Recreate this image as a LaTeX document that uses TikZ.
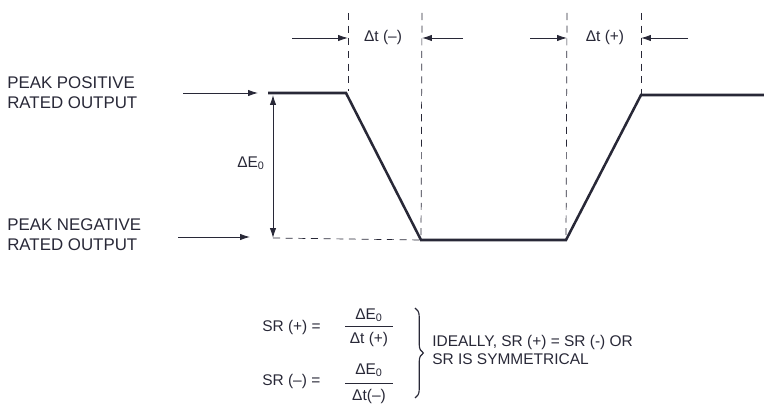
\documentclass[tikz,border=0pt]{standalone}
\usepackage{fontspec}
\setmainfont{Liberation Sans}
\usetikzlibrary{arrows.meta,decorations.pathreplacing}
\definecolor{ink}{RGB}{40,40,55}

\begin{document}
\begin{tikzpicture}[x=0.025cm,y=-0.025cm,color=ink,
		wave/.style={line width=1.8pt,line join=miter},
		guide/.style={dash pattern=on 5pt off 4pt,line width=0.5pt},
		dimarrow/.style={-{Latex[length=7pt,width=4.5pt]},line width=0.6pt},
		lbl/.style={font=\fontsize{12}{14}\selectfont,align=left,inner sep=0pt,anchor=west},
		small/.style={font=\fontsize{11}{13}\selectfont,inner sep=0pt}]
		\useasboundingbox (0,0) rectangle (764,405);
		%waveform
		\coordinate (p1) at (268,93);
		\coordinate (p2) at (346,93);
		\coordinate (p3) at (421,240);
		\coordinate (p4) at (566,240);
		\coordinate (p5) at (641,95);
		\coordinate (p6) at (764,95);
		\draw[wave] (p1) -- (p2) -- (p3) -- (p4) -- (p5) -- (p6);
		%dashed guides
		\coordinate (g1) at (348,13);
		\coordinate (g2) at (422,13);
		\coordinate (g3) at (567,13);
		\coordinate (g4) at (641,13);
		\draw[guide] (g1) -- (348,91);
		\draw[guide] (g2) -- (p3);
		\draw[guide] (g3) -- (p4);
		\draw[guide] (g4) -- (p5);
		\coordinate (lo) at (273,238);
		\draw[guide] (lo) -- (p3);
		%time intervals
		\node[small] (tneg) at (383,38) {Δt (–)};
		\node[small] (tpos) at (605,38) {Δt (+)};
		\draw[dimarrow] (292,38) to (348,38);
		\draw[dimarrow] (463,38) to (422,38);
		\draw[dimarrow] (530,38) to (567,38);
		\draw[dimarrow] (688,38) to (641,38);
		%stuff down the side
		\node[lbl] (pos) at (7,93) {PEAK POSITIVE\\RATED OUTPUT};
		\node[lbl] (neg) at (7,235) {PEAK NEGATIVE\\RATED OUTPUT};
		\draw[dimarrow] (183,93) to (258,93);
		\draw[dimarrow] (178,237) to (250,237);
		\coordinate (hi) at (273,95);
		\draw[{Latex[length=7pt,width=4.5pt]}-{Latex[length=7pt,width=4.5pt]},line width=0.6pt] (hi) to (lo);
		\node[small,anchor=east] (dE) at (265,163) {ΔE\textsubscript{0}};
		%slew rate formulas
		\node[small,anchor=west] (srp) at (262,327) {SR (+) = };
		\node[small,anchor=west] (srn) at (262,381) {SR (–) = };
		\node[small] (np) at (369,315) {ΔE\textsubscript{0}};
		\node[small] (dp) at (369,339) {Δt (+)};
		\node[small] (nn) at (369,370) {ΔE\textsubscript{0}};
		\node[small] (dn) at (369,396) {Δt(–)};
		\draw[line width=0.6pt] (345,326) -- (393,326);
		\draw[line width=0.6pt] (345,383) -- (393,383);
		\draw[decorate,decoration={brace,amplitude=6pt},line width=0.8pt] (415,308) -- (415,398);
		\node[small,align=left,anchor=west] (note) at (432,350) {IDEALLY, SR (+) = SR (-) OR\\SR IS SYMMETRICAL};
	\end{tikzpicture}
\end{document}
